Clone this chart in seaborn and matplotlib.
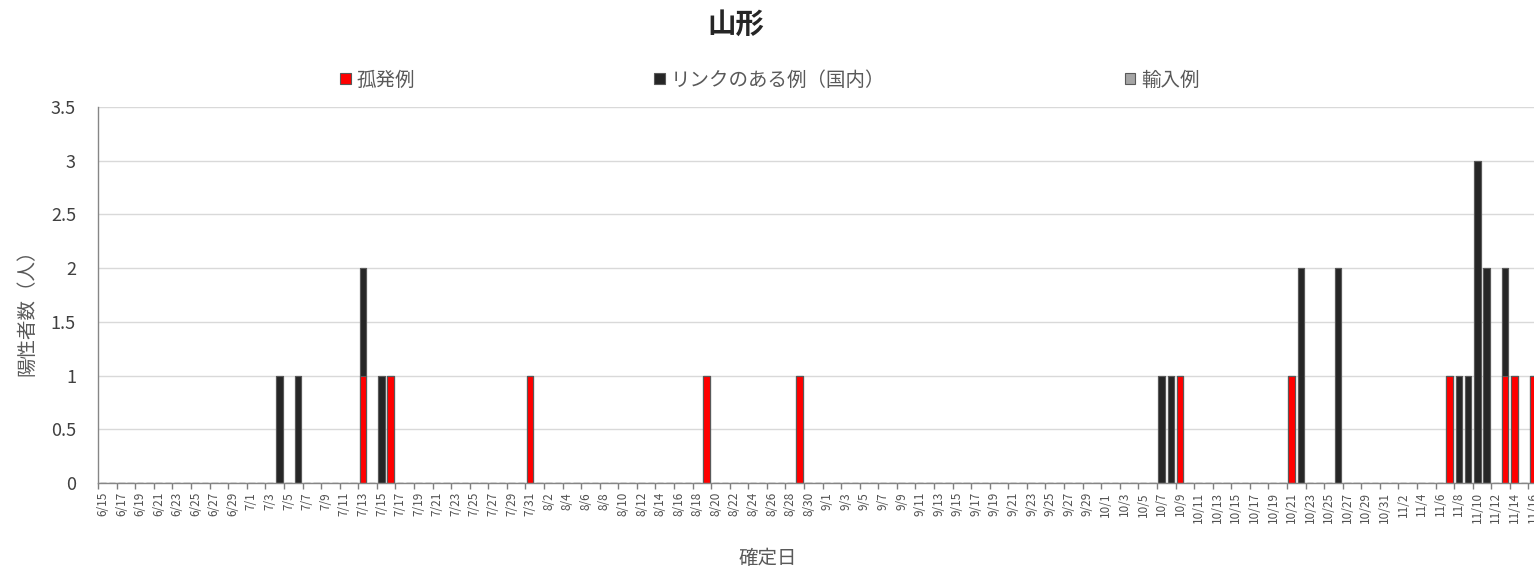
import numpy as np
import pandas as pd
import matplotlib
matplotlib.use("Agg")
import matplotlib.pyplot as plt
import seaborn as sns
from matplotlib.patches import Patch
from matplotlib.ticker import FixedLocator

# ---------------- data ----------------
dates = [f"{d.month}/{d.day}" for d in pd.date_range("2020-06-15", "2020-11-16")]

isolated_dates = ["7/13", "7/16", "7/31", "8/19", "8/29", "10/9", "10/21",
                  "11/7", "11/13", "11/14", "11/16"]
isolated_counts = [1, 1, 1, 1, 1, 1, 1, 1, 1, 1, 1]

linked_dates = ["7/4", "7/6", "7/13", "7/15", "10/7", "10/8", "10/22", "10/26",
                "11/8", "11/9", "11/10", "11/11", "11/13"]
linked_counts = [1, 1, 1, 1, 1, 1, 2, 2, 1, 1, 3, 2, 1]

imported_dates = []
imported_counts = []

series_labels = ["孤発例", "リンクのある例（国内）", "輸入例"]
y_ticks = [0, 0.5, 1, 1.5, 2, 2.5, 3, 3.5]
y_tick_labels = ["0", "0.5", "1", "1.5", "2", "2.5", "3", "3.5"]

title = "山形"
x_label = "確定日"
y_label = "陽性者数（人）"

# ---------------- build table ----------------
iso_map = dict(zip(isolated_dates, isolated_counts))
lnk_map = dict(zip(linked_dates, linked_counts))
imp_map = dict(zip(imported_dates, imported_counts))
df = pd.DataFrame({
    "date": dates,
    "isolated": [iso_map.get(d, 0) for d in dates],
    "linked": [lnk_map.get(d, 0) for d in dates],
    "imported": [imp_map.get(d, 0) for d in dates],
})
df["cum_linked"] = df["isolated"] + df["linked"]
df["cum_all"] = df["cum_linked"] + df["imported"]

# ---------------- style ----------------
sns.set_theme(style="white")
plt.rcParams["font.family"] = ["Noto Sans CJK JP", "DejaVu Sans"]

RED = "#ff0000"
BLACK = "#262626"
GRAY = "#a5a5a5"
EDGE = "#595959"

W, H = 1534, 573
fig = plt.figure(figsize=(W / 100, H / 100), dpi=100)
left_px, right_px, top_px, bot_px = 98.2, 1534, 107, 483
ax = fig.add_axes([left_px / W, 1 - bot_px / H, (right_px - left_px) / W,
                   (bot_px - top_px) / H])

common = dict(order=dates, width=0.7, edgecolor=EDGE, linewidth=0.8,
              saturation=1, errorbar=None, ax=ax)
sns.barplot(data=df, x="date", y="cum_all", color=GRAY, **common)
sns.barplot(data=df, x="date", y="cum_linked", color=BLACK, **common)
sns.barplot(data=df, x="date", y="isolated", color=RED, **common)

# axes ranges
ax.set_ylim(0, 3.5)
ax.set_xlim(-0.5, 154.1)

# y axis
ax.set_yticks(y_ticks)
ax.set_yticklabels(y_tick_labels, fontsize=13, color="#404040")
ax.tick_params(axis="y", length=0, pad=16)
ax.yaxis.grid(True, color="#d9d9d9", linewidth=1)
ax.set_axisbelow(True)

# x axis
ax.set_xticks(range(0, len(dates), 2))
ax.set_xticklabels(dates[::2], rotation=90, fontsize=8.5, color="#505050")
ax.tick_params(axis="x", which="major", length=0, pad=6.5)
ax.xaxis.set_minor_locator(FixedLocator(np.arange(-0.5, len(dates), 2)))
ax.tick_params(axis="x", which="minor", bottom=True, length=4,
               width=1, color="#7f7f7f")

for s in ["top", "right"]:
    ax.spines[s].set_visible(False)
for s in ["left", "bottom"]:
    ax.spines[s].set_color("#868686")
    ax.spines[s].set_linewidth(1)

# labels
ax.set_xlabel(x_label, fontsize=14, color="#595959")
ax.xaxis.label.set(va="center", ha="center")
ax.xaxis.set_label_coords((768 - left_px) / (right_px - left_px),
                          (bot_px - 558) / (bot_px - top_px))
ax.set_ylabel(y_label, fontsize=14, color="#595959")
ax.yaxis.label.set(va="center", ha="center", rotation_mode="anchor")
ax.yaxis.set_label_coords((27 - left_px) / (right_px - left_px),
                          (bot_px - 308) / (bot_px - top_px))

# title
fig.text(736 / W, 1 - 25 / H, title, ha="center", va="center",
         fontsize=20.5, fontweight="bold", color="#262626")

# legend
handles = [Patch(facecolor=RED, edgecolor=EDGE, linewidth=0.8),
           Patch(facecolor=BLACK, edgecolor=EDGE, linewidth=0.8),
           Patch(facecolor=GRAY, edgecolor=EDGE, linewidth=0.8)]
fig.legend(handles, series_labels, loc="center",
           bbox_to_anchor=(770 / W, 1 - 80 / H), ncol=3, frameon=False,
           fontsize=14, handlelength=0.55, handleheight=0.55,
           handletextpad=0.3, columnspacing=12.3, labelcolor="#595959")

fig.savefig("out.png", dpi=100)
